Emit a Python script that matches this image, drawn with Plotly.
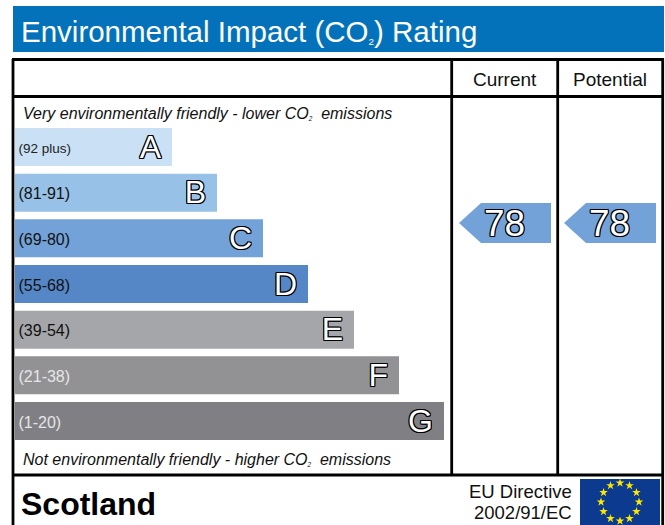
import math
import plotly.graph_objects as go

W, H = 665, 525
bands = ["A", "B", "C", "D", "E", "F", "G"]
ranges = ["(92 plus)", "(81-91)", "(69-80)", "(55-68)", "(39-54)", "(21-38)", "(1-20)"]
lengths = [157, 202, 248, 293, 339, 384, 429]
colors = ["#c9e0f5", "#98c1e7", "#73a2d8", "#5587c6", "#a5a6a9", "#929294", "#807f84"]
range_colors = ["#222", "#111", "#111", "#111", "#111", "#e6e6e6", "#e6e6e6"]
range_sizes = [13.5, 16, 16, 16, 16, 16, 16]
columns = ["Current", "Potential"]
ratings = [78, 78]
arrow_color = "#73a2d8"
star_angles = list(range(0, 360, 30))

OUTLINE = ",".join(f"{dx}px {dy}px 0 #000" for dx, dy in
                   [(-1,-1),(1,-1),(-1,1),(1,1),(-1,0),(1,0),(0,-1),(0,1)])
FONT = "Liberation Sans, Arial, sans-serif"

fig = go.Figure()
# rating bars on a category axis
fig.add_trace(go.Bar(y=bands, x=lengths, orientation="h", marker=dict(color=colors, line=dict(width=0)),
                     xaxis="x", yaxis="y", hoverinfo="skip"))
# band labels sit on a twin category axis a little lower than the bars
fig.add_trace(go.Scatter(y=bands, x=[3.5] * 7, mode="text", text=ranges, textposition="middle right",
                         textfont=dict(family=FONT, size=range_sizes, color=range_colors),
                         xaxis="x", yaxis="y4", hoverinfo="skip"))
fig.add_trace(go.Scatter(y=bands, x=[v - 11 for v in lengths], mode="text", text=bands,
                         textposition="middle left",
                         textfont=dict(family=FONT, size=32, color="white", shadow=OUTLINE),
                         xaxis="x", yaxis="y4", hoverinfo="skip"))

# rating arrows: y on a 0-100 rating axis, x in the column
col_right = [551, 656]
for val, right in zip(ratings, col_right):
    h = 6.2
    fig.add_trace(go.Scatter(
        x=[right, right - 70, right - 92, right - 70, right, right],
        y=[val + h, val + h, val, val - h, val - h, val + h],
        mode="lines", fill="toself", fillcolor=arrow_color, line=dict(width=0),
        xaxis="x2", yaxis="y2", hoverinfo="skip"))
    fig.add_trace(go.Scatter(x=[right - 46.5], y=[val - 1.2], mode="text", text=[str(val)],
                             textposition="middle center",
                             textfont=dict(family=FONT, size=37, color="white", shadow=OUTLINE),
                             xaxis="x2", yaxis="y2", hoverinfo="skip"))

# EU stars
fig.add_trace(go.Scatter(
    x=[620 + 19 * math.sin(math.radians(a)) for a in star_angles],
    y=[502 - 19 * math.cos(math.radians(a)) for a in star_angles],
    mode="markers", marker=dict(symbol="star", size=6.5, color="#ffe800", line=dict(width=0)),
    xaxis="x2", yaxis="y3", hoverinfo="skip"))


def line(x0, y0, x1, y1):
    return dict(type="line", xref="x2", yref="y3", x0=x0, y0=y0, x1=x1, y1=y1,
                line=dict(color="#000", width=2.8), layer="below")


shapes = [
    dict(type="rect", xref="x2", yref="y3", x0=13, x1=664, y0=6, y1=52,
         fillcolor="#0372bb", line=dict(width=0), layer="below"),
    dict(type="rect", xref="x2", yref="y3", x0=580, x1=660, y0=479, y1=525,
         fillcolor="#0b3a8f", line=dict(width=0), layer="below"),
    line(12, 59.5, 664, 59.5), line(12, 96.5, 664, 96.5), line(12, 475, 664, 475),
    line(13, 59, 13, 525), line(662.7, 59, 662.7, 525),
    line(451.7, 59, 451.7, 475), line(557.7, 59, 557.7, 475),
]


def note(x, y, text, size, anchor="left", color="#111", **kw):
    return dict(x=x, y=y, xref="x2", yref="y3", text=text, showarrow=False, xanchor=anchor, yanchor="middle",
                font=dict(family=FONT, size=size, color=color), **kw)


SUB = '<span style="font-size:9px"><sub>2</sub></span>'
annotations = [
    note(19, 31, 'Environmental Impact (CO<span style="font-size:14px"><sub>2</sub></span>) Rating', 29.5, color="white"),
    note(505, 79.5, columns[0], 19, "center"),
    note(610, 79.5, columns[1], 19, "center"),
    note(21, 113.5, f"<i>Very environmentally friendly - lower CO{SUB}  emissions</i>", 16),
    note(21, 459.5, f"<i>Not environmentally friendly - higher CO{SUB}  emissions</i>", 16),
    note(19, 503.5, "<b>Scotland</b>", 32, color="#000"),
    note(574, 491, "EU Directive", 18.5, "right"),
    note(574, 512.5, "2002/91/EC", 18.5, "right"),
]

pitch = 45.67
band_top = 128 - (pitch - 38) / 2
band_bot = band_top + 7 * pitch
label_drop = 2.5
cat_axis = dict(type="category", categoryorder="array", categoryarray=bands, autorange=False,
                range=[6.5, -0.5], visible=False, fixedrange=True, anchor="x")
fig.update_layout(
    width=W, height=H, margin=dict(l=0, r=0, t=0, b=0), showlegend=False,
    paper_bgcolor="white", plot_bgcolor="rgba(0,0,0,0)", bargap=(pitch - 38) / pitch,
    shapes=shapes, annotations=annotations,
    xaxis=dict(domain=[15 / W, 1], range=[0, W - 15], visible=False, fixedrange=True, anchor="y"),
    yaxis=dict(domain=[1 - band_bot / H, 1 - band_top / H], **cat_axis),
    yaxis4=dict(domain=[1 - (band_bot + label_drop) / H, 1 - (band_top + label_drop) / H], **cat_axis),
    xaxis2=dict(domain=[0, 1], range=[0, W], visible=False, fixedrange=True, anchor="y3"),
    yaxis2=dict(domain=[50 / H, 373 / H], range=[0, 100], visible=False, fixedrange=True, anchor="x2"),
    yaxis3=dict(domain=[0, 1], range=[H, 0], visible=False, fixedrange=True, anchor="x2"),
)
fig.write_html("out.html", config=dict(displayModeBar=False),
               post_script="document.body.style.margin='0';document.body.style.overflow='hidden';")
